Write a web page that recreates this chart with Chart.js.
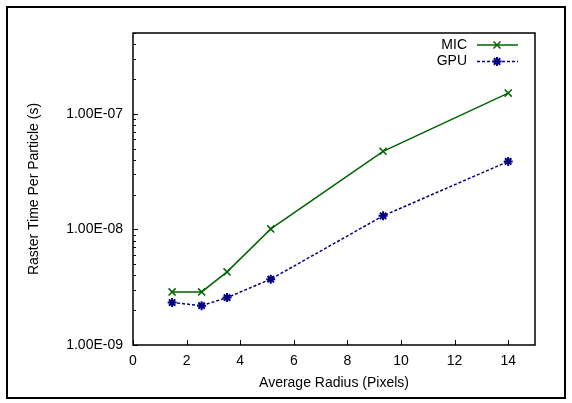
<!DOCTYPE html>
<html>
<head>
<meta charset="utf-8">
<script src="https://cdn.jsdelivr.net/npm/chart.js@4/dist/chart.umd.min.js"></script>
<style>
  html, body { margin: 0; padding: 0; background: #fff; }
  #wrap { width: 572px; height: 403px; position: relative; }
</style>
</head>
<body>
<div id="wrap"><canvas id="c" width="572" height="403"></canvas></div>
<script>
// values
const radius = [1.46, 2.56, 3.51, 5.14, 9.33, 14];
const micTime = [2.88e-9, 2.88e-9, 4.29e-9, 1.01e-8, 4.74e-8, 1.51e-7];
const gpuTime = [2.33e-9, 2.19e-9, 2.57e-9, 3.71e-9, 1.31e-8, 3.87e-8];
const xTicks = [0, 2, 4, 6, 8, 10, 12, 14];
const yDecades = [1e-9, 1e-8, 1e-7];
const yMax = 5e-7;

const FONT = "'Liberation Sans', Arial, sans-serif";
const MIC_COLOR = "#006400";
const GPU_COLOR = "#000080";

// all 1..9 multiples of each decade, for the minor tick marks
const yAllTicks = [];
yDecades.concat([1e-6]).forEach((d) => {
  for (let m = 1; m <= 9; m++) {
    const v = d * m;
    if (v <= yMax * 1.0001) yAllTicks.push(v);
  }
});

function fmtExp(v) {
  const e = Math.round(Math.log10(v));
  const sign = e < 0 ? "-" : "+";
  return "1.00E" + sign + String(Math.abs(e)).padStart(2, "0");
}

// gnuplot style: frame, inward ticks, outer box, legend on the right
const framePlugin = {
  id: "frame",
  beforeDraw(chart) {
    const ctx = chart.ctx;
    ctx.save();
    ctx.fillStyle = "#fff";
    ctx.fillRect(0, 0, chart.width, chart.height);
    ctx.restore();
  },
  afterDraw(chart) {
    const { ctx, chartArea: a, scales } = chart;
    ctx.save();
    ctx.strokeStyle = "#000";
    ctx.lineWidth = 1.5;
    ctx.strokeRect(a.left, a.top, a.right - a.left, a.bottom - a.top);

    ctx.lineWidth = 1;
    ctx.beginPath();
    scales.x.ticks.forEach((t) => {
      const px = Math.round(scales.x.getPixelForValue(t.value)) + 0.5;
      ctx.moveTo(px, a.bottom);
      ctx.lineTo(px, a.bottom - 5);
    });
    scales.y.ticks.forEach((t) => {
      const py = Math.round(scales.y.getPixelForValue(t.value)) + 0.5;
      const major = yDecades.some((d) => Math.abs(d - t.value) / d < 1e-6);
      ctx.moveTo(a.left, py);
      ctx.lineTo(a.left + (major ? 5 : 3), py);
    });
    ctx.stroke();

    // outer box
    ctx.lineWidth = 2;
    ctx.strokeRect(7, 7, 558, 391);

    // legend
    const items = [
      { label: "MIC", color: MIC_COLOR, dash: [], style: "crossRot", y: 45 },
      { label: "GPU", color: GPU_COLOR, dash: [3, 2], style: "star", y: 61.5 },
    ];
    ctx.font = "14px " + FONT;
    ctx.textAlign = "right";
    ctx.textBaseline = "middle";
    items.forEach((it) => {
      ctx.fillStyle = "#000";
      ctx.fillText(it.label, 467, it.y);
      ctx.strokeStyle = it.color;
      ctx.lineWidth = 1.5;
      ctx.setLineDash(it.dash);
      ctx.beginPath();
      ctx.moveTo(477, it.y);
      ctx.lineTo(518, it.y);
      ctx.stroke();
      ctx.setLineDash([]);
      const r = it.style === "star" ? 4.5 : 5;
      ctx.lineWidth = it.style === "star" ? 2 : 1.5;
      ctx.beginPath();
      const d = r * Math.SQRT1_2;
      ctx.moveTo(497 - d, it.y - d); ctx.lineTo(497 + d, it.y + d);
      ctx.moveTo(497 - d, it.y + d); ctx.lineTo(497 + d, it.y - d);
      if (it.style === "star") {
        ctx.moveTo(497 - r, it.y); ctx.lineTo(497 + r, it.y);
        ctx.moveTo(497, it.y - r); ctx.lineTo(497, it.y + r);
      }
      ctx.stroke();
    });
    ctx.restore();
  },
};

new Chart(document.getElementById("c"), {
  type: "scatter",
  data: {
    datasets: [
      {
        label: "MIC",
        data: radius.map((x, i) => ({ x, y: micTime[i] })),
        showLine: true,
        borderColor: MIC_COLOR,
        backgroundColor: MIC_COLOR,
        borderWidth: 1.5,
        pointStyle: "crossRot",
        pointRadius: 5,
        pointBorderWidth: 1.5,
        tension: 0,
      },
      {
        label: "GPU",
        data: radius.map((x, i) => ({ x, y: gpuTime[i] })),
        showLine: true,
        borderColor: GPU_COLOR,
        backgroundColor: GPU_COLOR,
        borderWidth: 1.5,
        borderDash: [3, 2],
        pointStyle: "star",
        pointRadius: 4.5,
        pointBorderWidth: 2,
        tension: 0,
      },
    ],
  },
  options: {
    responsive: false,
    animation: false,
    events: [],
    layout: { padding: { left: 0, top: 33, right: 37, bottom: 0 } },
    plugins: { legend: { display: false }, tooltip: { enabled: false } },
    scales: {
      x: {
        type: "linear",
        min: 0,
        max: 15,
        afterBuildTicks: (s) => { s.ticks = xTicks.map((v) => ({ value: v })); },
        afterFit: (s) => { s.height = 58; },
        grid: { display: false, drawTicks: false },
        border: { display: false },
        ticks: { color: "#000", font: { family: FONT, size: 14 }, padding: 8, maxRotation: 0 },
        title: {
          display: true,
          text: "Average Radius (Pixels)",
          color: "#000",
          font: { family: FONT, size: 14 },
          padding: { top: 0, bottom: 11 },
        },
      },
      y: {
        type: "logarithmic",
        min: 1e-9,
        max: yMax,
        afterBuildTicks: (s) => { s.ticks = yAllTicks.map((v) => ({ value: v })); },
        afterFit: (s) => { s.width = 133; },
        grid: { display: false, drawTicks: false },
        border: { display: false },
        ticks: {
          color: "#000",
          font: { family: FONT, size: 14 },
          padding: 10,
          autoSkip: false,
          callback: (v) => (yDecades.some((d) => Math.abs(d - v) / d < 1e-6) ? fmtExp(v) : ""),
        },
        title: {
          display: true,
          text: "Raster Time Per Particle (s)",
          color: "#000",
          font: { family: FONT, size: 14 },
          padding: { top: 25.6, bottom: 0 },
        },
      },
    },
  },
  plugins: [framePlugin],
});
</script>
</body>
</html>
